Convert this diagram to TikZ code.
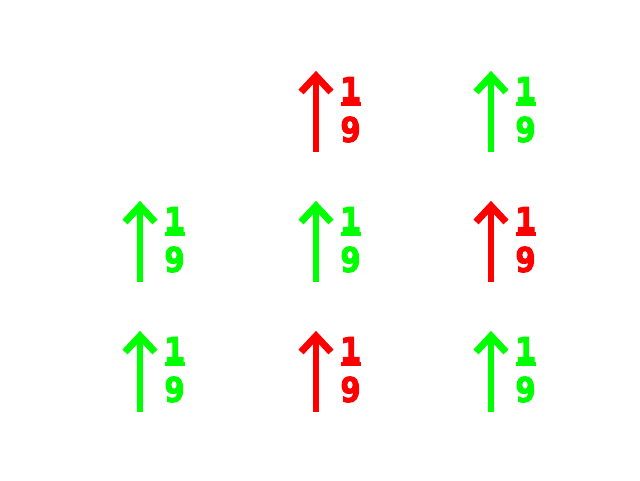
\documentclass[tikz,border=0pt]{standalone}
\usepackage{fontspec}
\newfontfamily\digitfont[FakeBold=3.5]{DejaVu Sans Mono Bold}
\definecolor{pgreen}{RGB}{0,255,0}
\definecolor{pred}{RGB}{255,0,0}
\begin{document}
\begin{tikzpicture}[x=1pt,y=-1pt,
  shaft/.style={line width=6.5pt},
  headstyle/.style={line width=7pt,line join=miter,miter limit=10},
  digit/.style={inner sep=0pt,font=\fontsize{34}{34}\digitfont},
  fracbar/.style={line width=4pt}]
\useasboundingbox (0,0) rectangle (640,480);
\foreach \cx/\by/\col/\nm in {316/152/pred/a, 491/152/pgreen/b,
  140/282/pgreen/c, 316/282/pgreen/d, 491/282/pred/e,
  140/412/pgreen/f, 316/412/pred/g, 491/412/pgreen/h}{
  \coordinate (\nm base) at (\cx,\by);
  \coordinate (\nm tip) at (\cx,\by-76);
  \draw[shaft,\col] (\nm base) -- (\nm tip);
  \draw[headstyle,\col] ([xshift=-15pt,yshift=-16pt]\nm tip) -- (\nm tip) -- ([xshift=15pt,yshift=-16pt]\nm tip);
  \node[digit,text=\col] (\nm num) at (\cx+34.5,\by-62.5) {1};
  \coordinate (\nm barl) at (\cx+24.5,\by-48.5);
  \coordinate (\nm barr) at (\cx+45,\by-48.5);
  \draw[fracbar,\col] (\nm barl) -- (\nm barr);
  \node[digit,text=\col] (\nm den) at (\cx+34.5,\by-22.5) {9};
}
\end{tikzpicture}
\end{document}
